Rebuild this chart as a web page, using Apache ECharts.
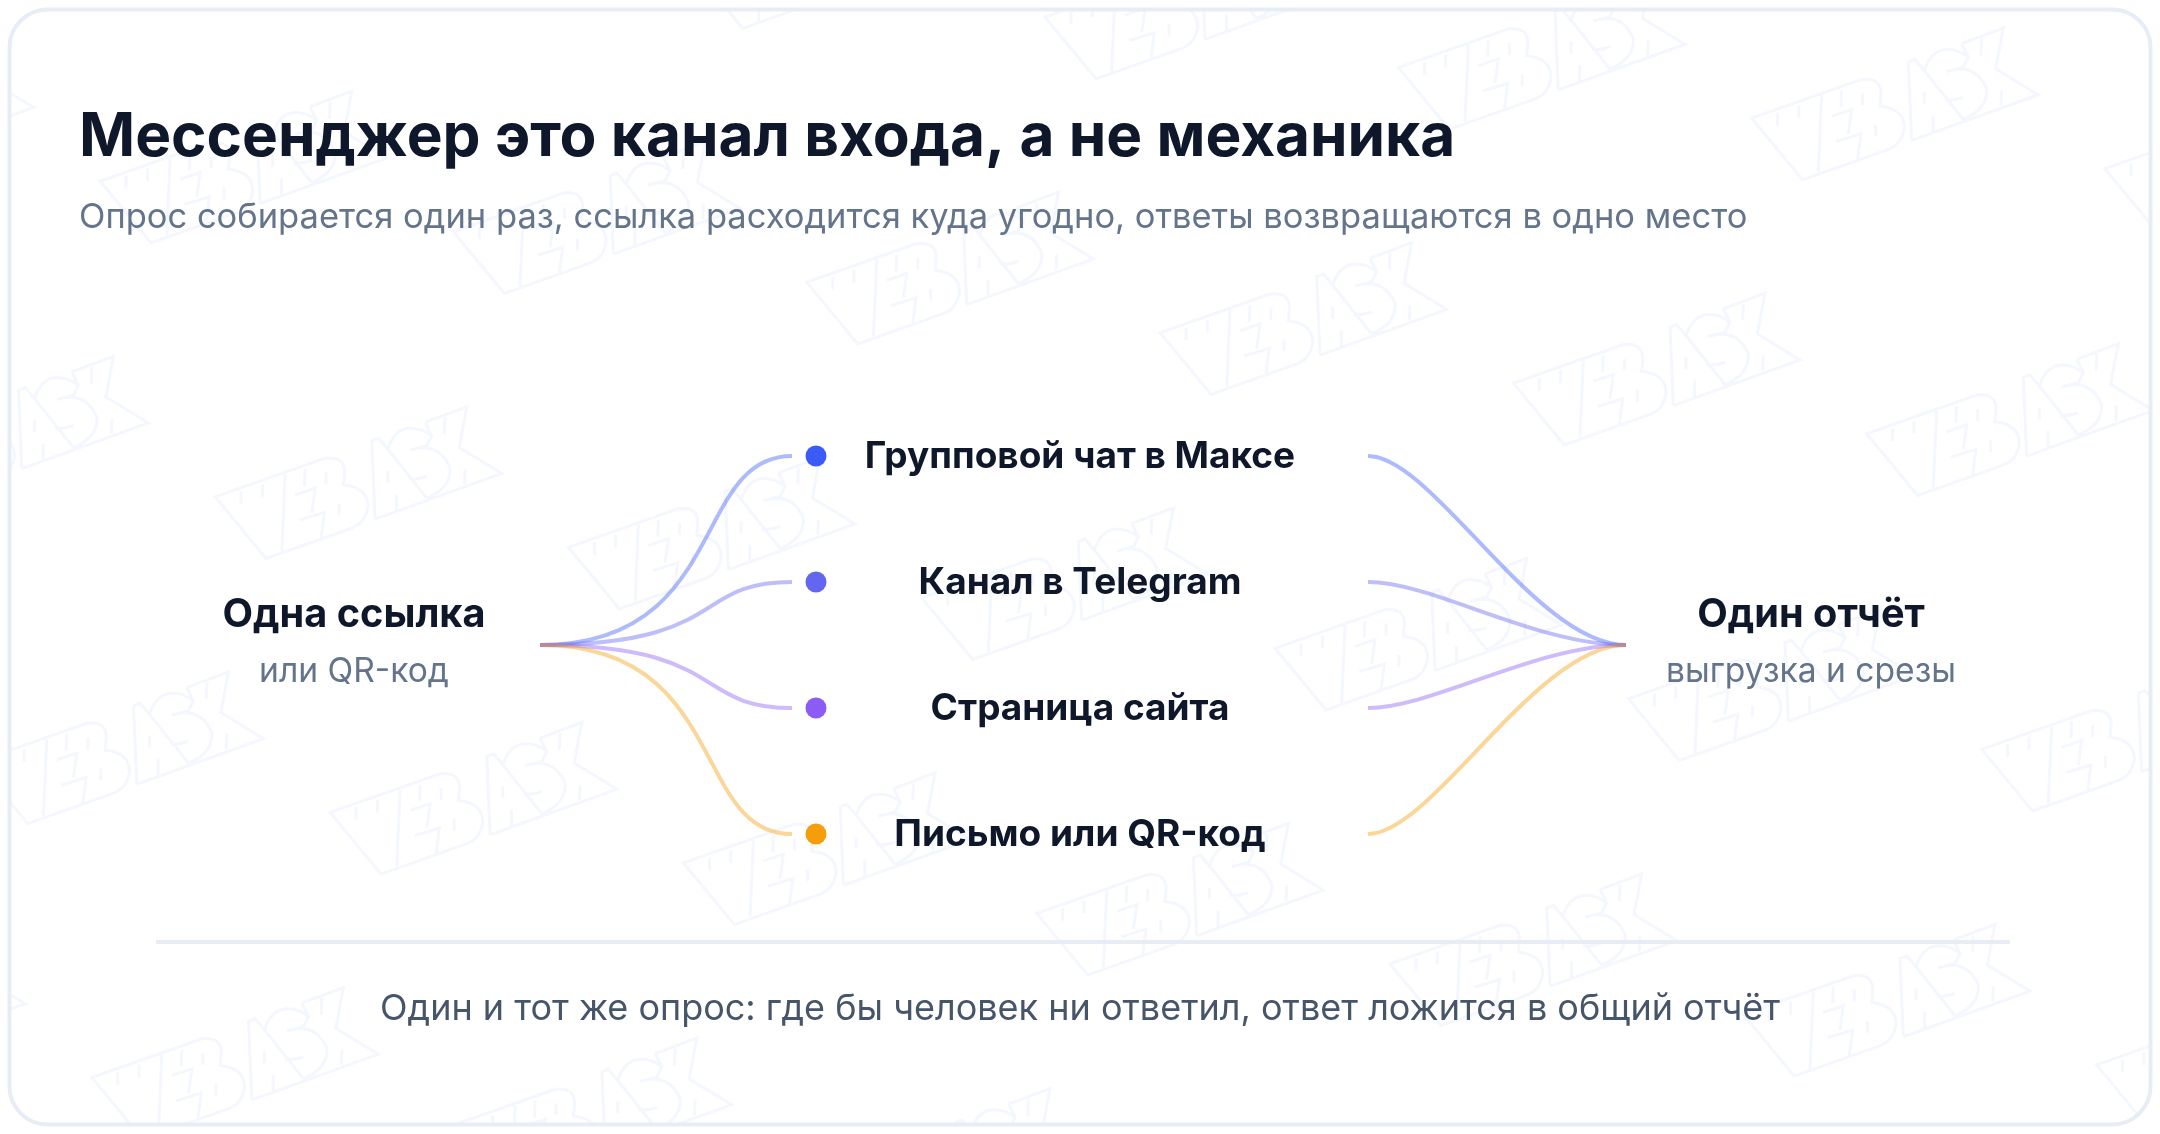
<!DOCTYPE html>
<html>
<head>
<meta charset="utf-8">
<style>
  html, body, #main { margin: 0; width: 100%; height: 100%; background: #fff; }
</style>
<script src="https://cdn.jsdelivr.net/npm/echarts@6/dist/echarts.min.js"></script>
</head>
<body>
<div id="main"></div>
<script>
var titleText = 'Мессенджер это канал входа, а не механика';
var subtitleText = 'Опрос собирается один раз, ссылка расходится куда угодно, ответы возвращаются в одно место';
var footerText = 'Один и тот же опрос: где бы человек ни ответил, ответ ложится в общий отчёт';
var sourceName = 'Одна ссылка';
var sourceNote = 'или QR-код';
var targetName = 'Один отчёт';
var targetNote = 'выгрузка и срезы';

var routeNames = ['Групповой чат в Максе', 'Канал в Telegram', 'Страница сайта', 'Письмо или QR-код'];
var routeRanks = [0, 1, 2, 3];
var hubRank = 1.5;
var routeColors = ['#3B5BF6', '#6366F1', '#8B5CF6', '#F59E0B'];

// horizontal stops of the diagram, px
var X_SOURCE = 540, X_IN = 792, X_DOT = 816, X_LABEL = 1080, X_OUT = 1368, X_TARGET = 1626;
var FONT = 'Inter';

function linkItem(shapeA, shapeB) {
  return function (params, api) {
    var p0 = api.coord([api.value(0), api.value(1)]);
    var p1 = api.coord([api.value(2), api.value(3)]);
    var dx = p1[0] - p0[0];
    return {
      type: 'bezierCurve',
      shape: {
        x1: p0[0], y1: p0[1], x2: p1[0], y2: p1[1],
        cpx1: p0[0] + dx * shapeA, cpy1: p0[1],
        cpx2: p0[0] + dx * shapeB, cpy2: p1[1]
      },
      style: { fill: null, stroke: routeColors[params.dataIndex], lineWidth: 4, opacity: 0.42 }
    };
  };
}

// watermark logo, traced at 3x
var logoPath =
  'M30 278L360 162Q422 155 418 210L415 242Q490 250 488 310Q480 355 445 370L183 463Z' +
  'M108 300L108 262M172 278L172 240M240 210L230 440' +
  'M300 195L298 245M270 272L330 252L320 325M283 348L358 325L348 402' +
  'M363 205L363 240M402 298L402 333' +
  'M510 345L500 110L520 102L548 135Q570 70 620 72Q650 72 680 95L665 125L615 138' +
  'Q700 110 735 190Q740 250 665 282M540 125L665 282' +
  'M660 55L785 8L762 130L890 208L510 345M660 55L680 95' +
  'M720 40L718 90M780 195L778 240M548 200L548 235M574 270L574 318M610 224Q640 226 665 215';

var tiles = [];
for (var row = -3; row <= 3; row++) {
  for (var col = -6; col <= 5; col++) {
    tiles.push([col, row]);
  }
}

function renderLogo(params, api) {
  return {
    type: 'path',
    shape: {
      pathData: logoPath, layout: 'cover',
      x: 1160 + api.value(0) * 353.3 + api.value(1) * 115,
      y: 242.7 + api.value(0) * 50.5 + api.value(1) * 315.6,
      width: 286.7, height: 151.7
    },
    style: { fill: null, stroke: '#F4F7FD', lineWidth: 3 }
  };
}

// white mask outside the card so the watermark stops at its edge
var framePath = 'M0 0L2160 0L2160 1134L0 1134Z' +
  'M47 9.5Q9.5 9.5 9.5 47L9.5 1087Q9.5 1124.5 47 1124.5L2113 1124.5Q2150.5 1124.5 2150.5 1087L2150.5 47Q2150.5 9.5 2113 9.5Z';

function label(text, x, y, size, weight, color, align) {
  return {
    type: 'text', silent: true, z: 5, x: x, y: y,
    style: {
      text: text, fontFamily: FONT, fontSize: size, fontWeight: weight, fill: color,
      align: align || 'center', verticalAlign: 'middle'
    }
  };
}

var chart = echarts.init(document.getElementById('main'));
chart.setOption({
  animation: false,
  backgroundColor: '#fff',
  grid: { left: 0, right: 0, top: 456, height: 378 },
  xAxis: { type: 'value', min: 0, max: 2160, show: false },
  yAxis: { type: 'value', min: 0, max: 3, inverse: true, show: false },
  graphic: [
    { type: 'rect', silent: true, z: 2, shape: { x: 9.5, y: 9.5, width: 2141, height: 1115, r: 38 },
      style: { fill: null, stroke: '#E7EDF5', lineWidth: 4 } },
    { type: 'rect', silent: true, z: 2, shape: { x: 156, y: 940, width: 1854, height: 4 }, style: { fill: '#E7ECF5' } },
    label(titleText, 79, 138, 60.3, 700, '#0F172A', 'left'),
    label(subtitleText, 79, 218, 34.5, 400, '#64748B', 'left'),
    label(sourceName, 354, 615, 39.7, 700, '#0F172A'),
    label(sourceNote, 354, 672, 33.6, 400, '#64748B'),
    label(targetName, 1811, 615, 39.7, 700, '#0F172A'),
    label(targetNote, 1811, 672, 33.6, 400, '#64748B'),
    label(footerText, 1080, 1009, 36, 400, '#475569')
  ],
  series: [
    {
      type: 'custom', coordinateSystem: 'none', z: 0, silent: true,
      renderItem: renderLogo,
      data: tiles
    },
    {
      type: 'custom', coordinateSystem: 'none', z: 1, silent: true,
      renderItem: function () {
        return {
          type: 'path',
          shape: { pathData: framePath, layout: 'cover', x: 0, y: 0, width: 2160, height: 1134 },
          style: { fill: '#fff' }
        };
      },
      data: [[0]]
    },
    {
      type: 'custom', coordinateSystem: 'cartesian2d', z: 3, clip: false, silent: true,
      renderItem: linkItem(0.75, 0.6),
      data: routeRanks.map(function (r) { return [X_SOURCE, hubRank, X_IN, r]; })
    },
    {
      type: 'custom', coordinateSystem: 'cartesian2d', z: 3, clip: false, silent: true,
      renderItem: linkItem(0.25, 0.65),
      data: routeRanks.map(function (r) { return [X_OUT, r, X_TARGET, hubRank]; })
    },
    {
      type: 'scatter', z: 4, symbolSize: 21, silent: true, clip: false,
      itemStyle: { opacity: 1 },
      data: routeRanks.map(function (r, i) {
        return { value: [X_DOT, r], itemStyle: { color: routeColors[i], opacity: 1 } };
      })
    },
    {
      type: 'scatter', z: 4, symbolSize: 0, silent: true, clip: false,
      itemStyle: { opacity: 1 },
      label: {
        show: true, position: 'inside', offset: [0, 0.5], opacity: 1,
        fontFamily: FONT, fontSize: 37, fontWeight: 700, color: '#0F172A',
        formatter: function (p) { return p.name; }
      },
      data: routeRanks.map(function (r, i) {
        return { name: routeNames[i], value: [X_LABEL, r] };
      })
    }
  ]
});
</script>
</body>
</html>
